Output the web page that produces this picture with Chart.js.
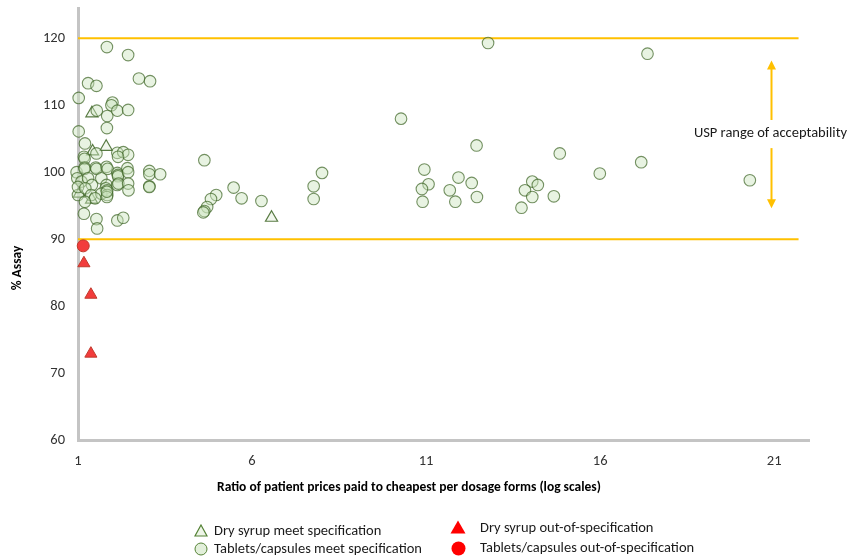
<!DOCTYPE html>
<html><head><meta charset="utf-8">
<script src="https://cdn.jsdelivr.net/npm/chart.js@4"></script>
<style>
html,body{margin:0;padding:0;background:#fff;}
#wrap{position:relative;width:848px;height:556px;overflow:hidden;background:#fff;}
#c{position:absolute;left:0;top:0;}
.lg{position:absolute;font-family:Carlito,Lato,sans-serif;font-size:14.5px;color:#1a1a1a;white-space:nowrap;line-height:17px;}
.mk{position:absolute;}
</style></head><body>
<div id="wrap">
<canvas id="c" width="848" height="556"></canvas>
<svg class="mk" style="left:194px;top:524px" width="14" height="13"><polygon points="7,1 13,12 1,12" fill="#eef5e8" stroke="#548235" stroke-width="1.2"/></svg>
<div class="lg" style="left:214px;top:522px">Dry syrup meet specification</div>
<svg class="mk" style="left:194px;top:542px" width="14" height="14"><circle cx="7" cy="7" r="6" fill="#e2efda" stroke="#548235" stroke-width="1"/></svg>
<div class="lg" style="left:214px;top:540px">Tablets/capsules meet specification</div>
<svg class="mk" style="left:450px;top:520px" width="16" height="14"><polygon points="8,0.5 15.5,13.5 0.5,13.5" fill="#ff0000"/></svg>
<div class="lg" style="left:480px;top:519px">Dry syrup out-of-specification</div>
<svg class="mk" style="left:451px;top:541px" width="15" height="15"><circle cx="7.5" cy="7.5" r="7" fill="#ff0000"/></svg>
<div class="lg" style="left:480px;top:539px">Tablets/capsules out-of-specification</div>
</div>
<script>
// ---- data ----
const xTicks = [1, 6, 11, 16, 21];
const yTicks = [60, 70, 80, 90, 100, 110, 120];
const uspLimits = [90, 120];
const uspLineX = [1, 21.7];
const xTitle = 'Ratio of patient prices paid to cheapest per dosage forms (log scales)';
const yTitle = '% Assay';
const annotationLabel = "USP range of acceptability";
const annotationX = 20.9;
const annotationTop = 116.7;
const annotationBottom = 94.6;
const annotationGapTop = 107.8;
const annotationGapBottom = 103.6;
const annotationTextY = 105.8;

const tabletsMeetX = [
 1.02,1.29,1.53,1.83,2.44,2.75,3.07,
 1.99,1.96,1.54,1.84,2.13,2.44,
 1.83,1.02,1.20,
 2.13,2.30,2.44,2.15,1.17,1.19,1.53,
 0.96,1.19,1.19,1.51,1.53,1.82,1.85,2.13,2.15,2.15,2.42,2.44,
 0.98,1.10,1.29,1.40,1.67,1.82,1.80,1.84,2.13,2.16,2.44,2.45,
 1.00,1.00,1.21,1.38,1.67,1.84,1.83,1.49,1.20,1.83,
 1.17,1.53,1.55,2.13,2.30,
 3.05,3.05,3.36,3.05,3.05,
 4.63,5.47,5.70,6.27,4.97,4.82,4.71,4.63,4.60,7.77,8.01,7.77,
 12.78,17.36,10.28,12.45,14.84,17.18,15.99,20.30,10.95,11.07,10.88,10.90,11.93,11.68,11.84,12.31,12.46,14.05,14.21,13.84,14.05,13.74,14.67
];
const tabletsMeetY = [
 111.1,113.3,112.9,118.7,117.5,114.0,113.6,
 110.4,110.0,109.2,108.4,109.2,109.3,
 106.6,106.1,104.3,
 102.9,103.0,102.6,102.3,102.3,102.0,102.8,
 100.0,100.7,100.5,100.7,100.5,100.8,100.5,99.9,99.6,99.4,100.6,100.0,
 99.1,98.6,99.1,98.1,99.1,98.1,97.6,97.3,98.1,98.3,98.3,97.3,
 96.6,97.8,97.6,96.6,96.8,96.6,96.3,96.1,95.6,97.1,
 93.8,93.0,91.6,92.8,93.2,
 100.2,99.7,99.7,97.9,97.8,
 101.8,97.7,96.1,95.7,96.6,96.0,94.8,94.2,94.0,97.9,99.9,96.0,
 119.3,117.7,108.0,104.0,102.8,101.5,99.8,98.8,100.4,98.2,97.5,95.6,99.2,97.3,95.6,98.4,96.3,98.6,98.1,97.3,96.3,94.7,96.4
];
const drySyrupMeetX = [1.40, 1.81, 1.42, 1.04, 1.39, 6.56];
const drySyrupMeetY = [108.8, 103.8, 103.1, 96.8, 95.9, 93.2];
const drySyrupOosX = [1.17, 1.37, 1.37];
const drySyrupOosY = [86.4, 81.7, 72.9];
const tabletsOosX = [1.15];
const tabletsOosY = [89.0];

const pts = (xs, ys) => xs.map((x, i) => ({x, y: ys[i]}));
const FONT = "Carlito, Lato, sans-serif";

const annotationPlugin = {
  id: 'uspArrow',
  afterDatasetsDraw(chart) {
    const {ctx, scales: {x, y}} = chart;
    const px = Math.round(x.getPixelForValue(annotationX)) + 0.5;
    const yT = y.getPixelForValue(annotationTop), yB = y.getPixelForValue(annotationBottom);
    const g1 = y.getPixelForValue(annotationGapTop), g2 = y.getPixelForValue(annotationGapBottom);
    ctx.save();
    ctx.strokeStyle = '#FFC000'; ctx.fillStyle = '#FFC000'; ctx.lineWidth = 2;
    ctx.beginPath(); ctx.moveTo(px, yT + 6); ctx.lineTo(px, g1); ctx.stroke();
    ctx.beginPath(); ctx.moveTo(px, g2); ctx.lineTo(px, yB - 6); ctx.stroke();
    ctx.beginPath(); ctx.moveTo(px, yT); ctx.lineTo(px - 4.5, yT + 9); ctx.lineTo(px + 4.5, yT + 9); ctx.closePath(); ctx.fill();
    ctx.beginPath(); ctx.moveTo(px, yB); ctx.lineTo(px - 4.5, yB - 9); ctx.lineTo(px + 4.5, yB - 9); ctx.closePath(); ctx.fill();
    ctx.fillStyle = '#1a1a1a'; ctx.font = '14.5px ' + FONT; ctx.textAlign = 'center'; ctx.textBaseline = 'middle';
    ctx.fillText(annotationLabel, px - 1, y.getPixelForValue(annotationTextY));
    ctx.restore();
  },
  afterDraw(chart) {
    const {ctx} = chart;
    ctx.save();
    ctx.fillStyle = '#000';
    ctx.font = 'bold 13.5px ' + FONT;
    ctx.textAlign = 'center'; ctx.textBaseline = 'middle';
    ctx.fillText(xTitle, 409, 488);
    ctx.translate(18, 268); ctx.rotate(-Math.PI / 2);
    ctx.fillText(yTitle, 0, 0);
    ctx.restore();
  }
};

const green = 'rgba(60,100,35,0.7)';
const greenFill = 'rgba(205,228,190,0.45)';

new Chart(document.getElementById('c'), {
  type: 'scatter',
  data: {
    datasets: [
      {label: 'USP upper', data: pts(uspLineX, [uspLimits[1], uspLimits[1]]), showLine: true, borderColor: '#FFC000', borderWidth: 2, pointRadius: 0, order: 5},
      {label: 'USP lower', data: pts(uspLineX, [uspLimits[0], uspLimits[0]]), showLine: true, borderColor: '#FFC000', borderWidth: 2, pointRadius: 0, order: 5},
      {label: 'Tablets/capsules meet specification', data: pts(tabletsMeetX, tabletsMeetY), pointStyle: 'circle', pointRadius: 5.8, borderWidth: 1.1, borderColor: green, backgroundColor: greenFill, clip: false},
      {label: 'Dry syrup meet specification', data: pts(drySyrupMeetX, drySyrupMeetY), pointStyle: 'triangle', pointRadius: 7, borderWidth: 1.2, borderColor: 'rgba(60,100,35,0.85)', backgroundColor: 'rgba(230,240,222,0.5)', clip: false},
      {label: 'Dry syrup out-of-specification', data: pts(drySyrupOosX, drySyrupOosY), pointStyle: 'triangle', pointRadius: 7, borderWidth: 1, borderColor: '#C0392B', backgroundColor: '#F23C3C', clip: false},
      {label: 'Tablets/capsules out-of-specification', data: pts(tabletsOosX, tabletsOosY), pointStyle: 'circle', pointRadius: 6, borderWidth: 1, borderColor: '#C0392B', backgroundColor: '#F23C3C', clip: false}
    ]
  },
  options: {
    responsive: false,
    animation: false,
    layout: {padding: {left: 10, right: 39, top: 0, bottom: 0}},
    plugins: {legend: {display: false}, tooltip: {enabled: false}},
    scales: {
      x: {
        type: 'linear', min: 1, max: 22,
        afterBuildTicks: s => { s.ticks = xTicks.map(v => ({value: v})); },
        afterFit: s => { s.height = 116; s.paddingLeft = 0; s.paddingRight = 0; },
        grid: {display: false, drawTicks: false},
        border: {display: true, color: '#C4C4C4', width: 3},
        ticks: {color: '#333', padding: 13, font: {family: FONT, size: 14.5}},
        title: {display: false}
      },
      y: {
        type: 'linear', min: 60, max: 124.5,
        afterBuildTicks: s => { s.ticks = yTicks.map(v => ({value: v})); },
        afterFit: s => { s.width = 68; s.paddingTop = 0; s.paddingBottom = 0; },
        grid: {display: false, drawTicks: false},
        border: {display: true, color: '#C4C4C4', width: 3},
        ticks: {color: '#333', padding: 13, font: {family: FONT, size: 14.5}},
        title: {display: false}
      }
    }
  },
  plugins: [annotationPlugin]
});
</script>
</body></html>
